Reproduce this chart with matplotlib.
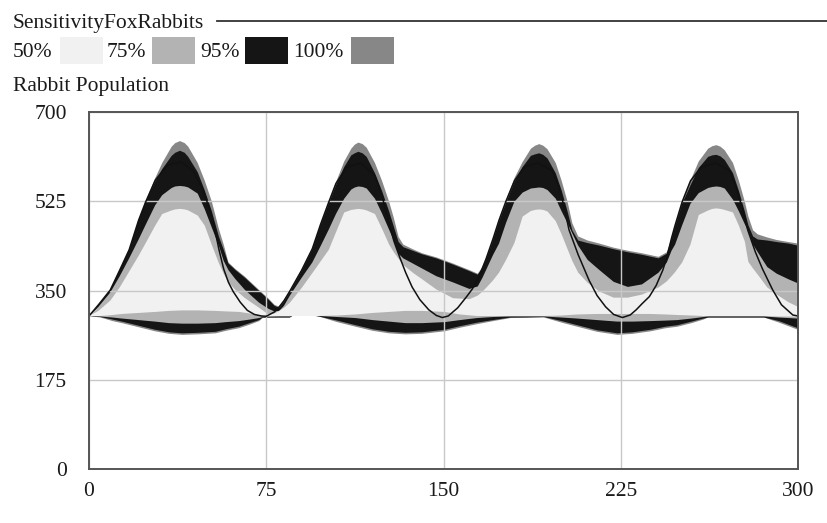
import matplotlib.pyplot as plt
from matplotlib.patches import Rectangle

plt.rcParams['font.family'] = ['Liberation Serif', 'DejaVu Serif']

# time grid for the upper edges of the sensitivity bands
t_up = [0, 4, 9, 13, 17, 21, 24, 28, 31, 35, 36.5,
        38.5, 40.5, 42, 46, 49, 52, 55, 57, 59, 62, 66,
        72, 76, 78.5, 80.5, 82.5, 85, 90, 94.5, 98, 101.5,
        104.5, 108, 111, 112.5, 114, 115.8, 117.5, 121, 124, 127, 129, 131,
        133, 137, 141, 147, 154, 161, 164.5, 166.5, 168, 171,
        173.5, 176.5, 180, 183.5, 187, 188.8, 190.5, 192.2, 194, 197.5, 200, 202.5,
        204.5, 207, 211, 216, 222, 228, 234, 241, 244.5, 246.5,
        248, 251, 254.5, 258, 262, 263.8, 265.5, 267.2, 269, 272.5, 275, 277.5,
        279, 281, 283, 287, 291, 296, 300]

up100 = [300, 322, 351, 390, 430, 488, 524, 570, 600, 632, 639,
         643, 639, 632, 600, 565, 524, 470, 440, 405, 392, 377,
         351, 334, 322, 318, 330, 349, 390, 432, 480, 524,
         562, 603, 628, 636, 640, 637, 630, 600, 565, 524, 492, 455,
         440, 431, 423, 415, 403, 390, 383, 396, 412, 452,
         488, 526, 570, 602, 628, 634, 637, 634, 627, 600, 565, 524,
         482, 456, 448, 442, 434, 428, 423, 416, 425, 453,
         478, 524, 565, 603, 628, 633, 635, 632, 625, 600, 565, 524,
         495, 468, 460, 454, 449, 445, 442]

up95 = [300, 322, 351, 390, 430, 488, 524, 563, 588, 614, 620,
        624, 620, 612, 582, 546, 505, 455, 430, 403, 390, 375,
        349, 332, 320, 316, 328, 347, 388, 430, 478, 521,
        556, 592, 615, 619, 622, 619, 612, 580, 545, 505, 475, 445,
        435, 428, 421, 413, 401, 388, 381, 394, 410, 449,
        485, 522, 562, 592, 614, 617, 619, 616, 609, 580, 546, 505,
        468, 448, 443, 438, 431, 425, 420, 413, 422, 450,
        475, 520, 556, 590, 612, 615, 616, 613, 606, 580, 545, 505,
        478, 456, 450, 448, 445, 442, 438]

up75 = [300, 318, 346, 378, 413, 450, 479, 517, 537, 551, 554,
        555, 554, 552, 540, 509, 473, 437, 408, 390, 372, 351,
        326, 314, 309, 310, 320, 340, 375, 405, 437, 470,
        500, 530, 548, 552, 554, 553, 550, 530, 501, 469, 448, 422,
        413, 403, 393, 378, 366, 353, 358, 375, 390, 420,
        442, 483, 524, 542, 550, 551, 552, 551, 547, 530, 505, 482,
        462, 438, 410, 390, 367, 357, 362, 385, 405, 428,
        440, 478, 520, 541, 551, 553, 554, 553, 550, 528, 505, 480,
        466, 440, 425, 396, 383, 372, 364]

up50 = [300, 310, 330, 356, 387, 418, 443, 477, 500, 507, 509,
        510, 509, 507, 497, 477, 439, 403, 383, 366, 351, 335,
        316, 303, 305, 310, 316, 326, 355, 384, 407, 430,
        464, 503, 508, 509, 510, 509, 507, 500, 471, 440, 425, 412,
        400, 385, 372, 352, 335, 333, 340, 348, 355, 370,
        385, 410, 443, 495, 506, 508, 509, 508, 505, 486, 460, 431,
        408, 385, 365, 348, 336, 336, 342, 356, 368, 378,
        386, 405, 440, 498, 507, 510, 511, 510, 508, 503, 477, 446,
        406, 393, 381, 356, 342, 327, 318]

# time grid for the lower edges (the dips around 300)
t_lo = [0, 4.9, 10, 14, 21, 28, 34, 39.5, 46, 53.6,
        58, 63.5, 68, 72, 73.5, 80, 85, 86, 96, 97.3,
        105, 112.8, 120, 127, 134, 141, 150.5, 157, 164.3, 171,
        178.4, 185, 192.6, 200, 206.6, 215, 223.6, 230, 237.7, 244,
        249, 255, 260, 262, 275, 285.7, 292, 300]

lo50 = [300, 300, 302, 304, 306, 308, 310, 311, 311, 310,
        309, 308, 305, 302, 300, 300, 300, 300, 300, 300,
        301, 303, 306, 308, 310, 310, 308, 303, 300, 300,
        300, 300, 300, 301, 303, 304, 304, 304, 304, 303,
        302, 301, 300, 300, 300, 300, 299, 299]

lo75 = [300, 299, 297, 295, 292, 289, 286, 285, 285, 286,
        288, 290, 293, 296, 298, 299, 299, 300, 300, 300,
        298, 296, 292, 289, 286, 286, 288, 292, 296, 298,
        299, 299, 299, 297, 295, 292, 289, 289, 290, 291,
        292, 295, 298, 299, 299, 299, 297, 295]

lo95 = [300, 298, 293, 289, 281, 273, 268, 266, 267, 269,
        274, 279, 286, 292, 297, 297, 297, 300, 300, 299,
        291, 282, 274, 269, 267, 268, 273, 280, 287, 292,
        297, 297, 298, 290, 282, 272, 266, 268, 273, 279,
        282, 289, 295, 297, 297, 297, 290, 276]

lo100 = [300, 297, 290, 286, 278, 270, 265, 263, 264, 266,
         271, 276, 283, 290, 296, 297, 297, 300, 300, 299,
         288, 279, 271, 266, 264, 265, 270, 277, 284, 290,
         296, 297, 297, 287, 279, 269, 263, 265, 270, 276,
         279, 286, 293, 297, 297, 297, 287, 273]

# base run
t_base = [0, 4, 9, 13, 17, 21, 24, 28, 33, 39, 44, 48, 51, 53, 55, 57, 59, 61, 64, 67, 70, 73, 75,
          78.5, 80.5, 82.5, 85, 90, 94.5, 98, 101.5, 104.5, 109, 115, 121, 124, 126.5, 129, 131.5,
          134, 136.7, 140, 143.8, 147, 149.5, 152, 156, 159.8, 162.2, 165, 168, 171,
          173.5, 176.5, 180, 184, 190, 196, 199, 201, 203.1, 207, 211.6, 215, 218.6, 222, 225.7,
          229, 231.5, 234, 237.1, 240, 242.8, 244.5, 246.5, 248, 251,
          254.5, 259, 265, 271, 274, 276.5, 278.7, 282, 285, 289.3, 293, 297.8, 300]
v_base = [300, 322, 351, 390, 430, 488, 524, 566, 595, 602, 585, 550, 510, 475, 430, 392, 366, 348, 327, 311, 303, 300, 299.5,
          308, 318, 330, 349, 390, 432, 480, 524, 560, 592, 600, 575, 535, 490, 447, 415,
          385, 357, 332, 312, 301, 297, 300, 316, 338, 353, 377, 412, 452,
          488, 526, 565, 592, 600, 585, 550, 515, 469, 420, 370, 340, 318, 303, 297,
          302, 312, 324, 338, 360, 390, 415, 453, 478, 524,
          565, 592, 600, 585, 550, 510, 469, 425, 392, 351, 322, 302, 300]

band_labels = ['50%', '75%', '95%', '100%']
band_colors = ['#f1f1f1', '#b3b3b3', '#151515', '#878787']

x_ticks = [0, 75, 150, 225, 300]
y_ticks = [0, 175, 350, 525, 700]

W, H = 828, 523
fig = plt.figure(figsize=(W / 100, H / 100), dpi=100)
ax = fig.add_axes([89 / W, 1 - 469 / H, 709 / W, 357 / H])

# each band is the region between its upper and lower edge;
# widest band first, narrower ones painted on top
bands = [(up100, lo100, band_colors[3]),
         (up95, lo95, band_colors[2]),
         (up75, lo75, band_colors[1]),
         (up50, lo50, band_colors[0])]
for i, (up, lo, col) in enumerate(bands):
    ax.fill(t_up + t_lo[::-1], up + lo[::-1], color=col, lw=0, zorder=1 + 0.1 * i)

ax.plot(t_base, v_base, color='#111111', lw=1.1, zorder=3)

ax.set_xlim(0, 300)
ax.set_ylim(0, 700)
ax.set_xticks(x_ticks)
ax.set_yticks(y_ticks)
ax.grid(True, color='#c8c8c8', lw=1.0)
ax.set_axisbelow(False)
ax.tick_params(length=0, labelsize=15.5, colors='#1a1a1a')
ax.tick_params(axis='y', pad=16)
ax.tick_params(axis='x', pad=9)
for s in ax.spines.values():
    s.set_color('#555555')
    s.set_linewidth(1.4)
    s.set_zorder(4)

# header: title with rule, legend swatches, variable name
fs = 15.5
fig.text(13 / W, 1 - 28 / H, 'SensitivityFoxRabbits', fontsize=fs, va='baseline', color='#1a1a1a')
fig.add_artist(plt.Line2D([217 / W, 1.0], [1 - 21 / H, 1 - 21 / H], color='#333333', lw=1.3))

text_x = [13, 107, 200, 293]
sw_x = [60, 152, 245, 351]
for lab, col, tx, sx in zip(band_labels, band_colors, text_x, sw_x):
    fig.text(tx / W, 1 - 57 / H, lab, fontsize=fs, va='baseline', color='#1a1a1a')
    fig.add_artist(Rectangle((sx / W, 1 - 64 / H), 43 / W, 27 / H,
                             transform=fig.transFigure, facecolor=col, edgecolor='none'))

fig.text(13 / W, 1 - 91 / H, 'Rabbit Population', fontsize=fs, va='baseline', color='#1a1a1a')

fig.savefig('out.png', dpi=100)
